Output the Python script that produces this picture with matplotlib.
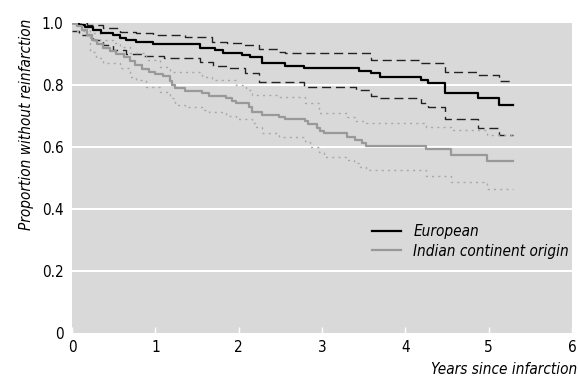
import matplotlib
matplotlib.use("Agg")
import matplotlib.pyplot as plt
from matplotlib import font_manager as fm

# narrow sans if there is one, otherwise Roboto
narrow = [f.name for f in fm.fontManager.ttflist
          if 'Narrow' in f.name or 'Condensed' in f.name
          or f.stretch in ('condensed', 'semi-condensed')]
if narrow:
    plt.rcParams['font.family'] = [narrow[0], 'DejaVu Sans']
    plt.rcParams['font.stretch'] = 'condensed'
    fs = 11
else:
    plt.rcParams['font.family'] = ['Roboto', 'DejaVu Sans']
    fs = 10.5

# European: estimate and 95% limits (step times in years)
eu_t = [0, 0.08, 0.16, 0.25, 0.35, 0.49, 0.58, 0.65, 0.77, 0.97, 1.53, 1.71, 1.81, 2.04,
        2.14, 2.28, 2.55, 2.78, 3.44, 3.59, 3.70, 4.19, 4.27, 4.48, 4.87, 5.13, 5.29]
eu_s = [1.0, 0.995, 0.986, 0.977, 0.969, 0.961, 0.952, 0.945, 0.940, 0.932, 0.920, 0.913,
        0.904, 0.897, 0.889, 0.870, 0.862, 0.854, 0.846, 0.838, 0.827, 0.816, 0.805, 0.775,
        0.757, 0.735, 0.735]

eu_up_t = [0, 0.18, 0.37, 0.57, 0.77, 0.97, 1.35, 1.68, 1.86, 2.04, 2.24, 2.48, 2.55, 3.59,
           4.19, 4.48, 4.87, 5.13, 5.29]
eu_up_s = [1.0, 0.995, 0.983, 0.972, 0.967, 0.961, 0.955, 0.940, 0.934, 0.929, 0.915, 0.907,
           0.902, 0.880, 0.870, 0.842, 0.832, 0.814, 0.814]

eu_lo_t = [0, 0.08, 0.25, 0.37, 0.49, 0.65, 0.86, 1.10, 1.53, 1.69, 1.86, 2.08, 2.24, 2.78,
           3.41, 3.59, 3.70, 4.19, 4.27, 4.48, 4.87, 5.13, 5.29]
eu_lo_s = [0.973, 0.962, 0.945, 0.929, 0.913, 0.900, 0.893, 0.886, 0.873, 0.861, 0.854,
           0.840, 0.811, 0.795, 0.784, 0.765, 0.759, 0.743, 0.728, 0.690, 0.662, 0.639, 0.639]

# Indian continent origin
in_t = [0, 0.06, 0.12, 0.18, 0.24, 0.30, 0.37, 0.45, 0.53, 0.62, 0.70, 0.76, 0.84, 0.92,
        1.00, 1.09, 1.17, 1.20, 1.23, 1.35, 1.56, 1.65, 1.85, 1.92, 1.97, 2.12, 2.16, 2.28,
        2.48, 2.56, 2.79, 2.83, 2.94, 2.98, 3.02, 3.30, 3.40, 3.48, 3.53, 4.25, 4.55, 4.98, 5.29]
in_s = [1.0, 0.99, 0.977, 0.962, 0.945, 0.932, 0.920, 0.910, 0.901, 0.889, 0.877, 0.866,
        0.852, 0.843, 0.837, 0.830, 0.812, 0.800, 0.789, 0.782, 0.773, 0.765, 0.759, 0.749,
        0.743, 0.728, 0.712, 0.703, 0.696, 0.689, 0.683, 0.674, 0.660, 0.653, 0.644, 0.633,
        0.623, 0.613, 0.603, 0.593, 0.574, 0.556, 0.556]

in_up_t = [0, 0.10, 0.21, 0.33, 0.49, 0.57, 0.69, 0.89, 1.05, 1.17, 1.56, 1.68, 1.97, 2.09,
           2.16, 2.48, 2.80, 2.96, 3.30, 3.40, 3.53, 4.25, 4.55, 4.98, 5.29]
in_up_s = [1.0, 0.988, 0.967, 0.945, 0.934, 0.924, 0.902, 0.881, 0.859, 0.843, 0.827, 0.816,
           0.800, 0.784, 0.768, 0.762, 0.741, 0.709, 0.696, 0.685, 0.677, 0.664, 0.655, 0.639,
           0.639]

in_lo_t = [0, 0.06, 0.18, 0.21, 0.29, 0.37, 0.57, 0.69, 0.77, 0.89, 1.05, 1.17, 1.23, 1.35,
           1.56, 1.65, 1.85, 1.97, 2.16, 2.20, 2.28, 2.48, 2.80, 2.86, 2.96, 3.02, 3.30, 3.38,
           3.45, 3.53, 4.25, 4.55, 4.98, 5.29]
in_lo_s = [1.0, 0.975, 0.956, 0.907, 0.886, 0.872, 0.854, 0.827, 0.816, 0.795, 0.778, 0.757,
           0.735, 0.730, 0.719, 0.714, 0.700, 0.689, 0.678, 0.665, 0.644, 0.633, 0.619, 0.601,
           0.585, 0.569, 0.558, 0.547, 0.535, 0.526, 0.506, 0.486, 0.464, 0.464]

xticks = [0, 1, 2, 3, 4, 5, 6]
yticks = [0, 0.2, 0.4, 0.6, 0.8, 1.0]
ylabels = ['0', '0.2', '0.4', '0.6', '0.8', '1.0']

black = '#000000'
grey = '#999999'
light = '#a8a8a8'

fig = plt.figure(figsize=(5.78, 3.77), dpi=100)
ax = fig.add_axes([72/578, 1 - 333/377, 500/578, 310/377])
ax.set_facecolor('#d9d9d9')
for s in ax.spines.values():
    s.set_visible(False)

for yv in [0.2, 0.4, 0.6, 0.8]:
    ax.axhline(yv, color='white', lw=1.5, zorder=1)

# confidence limits
ax.step(eu_up_t, eu_up_s, where='post', color='#222222', lw=1.0, dashes=(6.5, 3.5), zorder=2)
ax.step(eu_lo_t, eu_lo_s, where='post', color='#222222', lw=1.0, dashes=(6.5, 3.5), zorder=2)
ax.step(in_up_t, in_up_s, where='post', color=light, lw=1.0, dashes=(1.5, 3), zorder=2)
ax.step(in_lo_t, in_lo_s, where='post', color=light, lw=1.0, dashes=(1.5, 3), zorder=2)

# estimates
ax.step(eu_t, eu_s, where='post', color=black, lw=1.6, label='European', zorder=3)
ax.step(in_t, in_s, where='post', color=grey, lw=1.6, label='Indian continent origin', zorder=3)

ax.set_xlim(0, 6)
ax.set_ylim(0, 1.0)
ax.set_xticks(xticks)
ax.set_xticklabels([str(v) for v in xticks])
ax.set_yticks(yticks)
ax.set_yticklabels(ylabels)
ax.tick_params(axis='x', direction='in', length=4, width=1, color='white',
               labelsize=fs, pad=5)
ax.tick_params(axis='y', length=0, labelsize=fs, pad=6)

leg = ax.legend(loc='center left', bbox_to_anchor=(0.6, 0.296), frameon=False,
                fontsize=fs, handlelength=1.9, handletextpad=0.8, labelspacing=0.3,
                borderpad=0, borderaxespad=0)
for t in leg.get_texts():
    t.set_style('italic')

fig.text(27/578, 1 - 124/377, 'Proportion without reinfarction', rotation=90,
         ha='center', va='center', fontsize=fs, style='italic')
fig.text(0.998, 1 - 369/377, 'Years since infarction', ha='right', va='center',
         fontsize=fs, style='italic')

fig.savefig('out.png', dpi=100)
